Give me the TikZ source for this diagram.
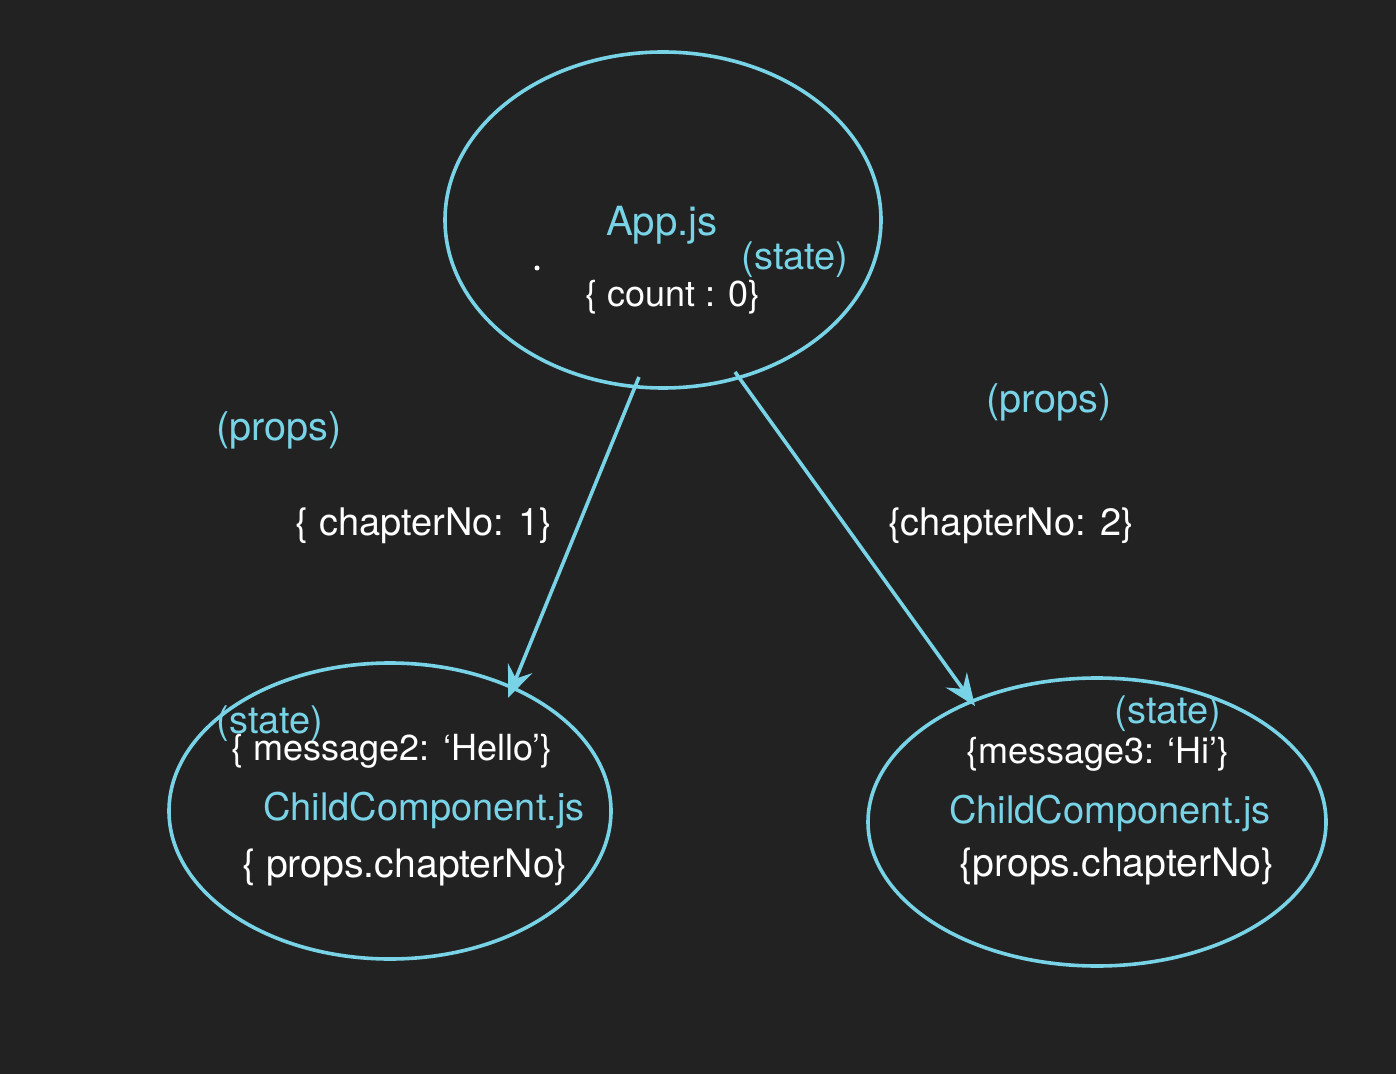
\documentclass[tikz,border=0pt]{standalone}
\usepackage{fontspec}
\setmainfont{TeX Gyre Heros}
\usetikzlibrary{shapes.geometric,arrows.meta}
\definecolor{bg}{HTML}{222222}
\definecolor{cy}{HTML}{78D3E6}
\begin{document}
\begin{tikzpicture}[x=0.5pt,y=-0.5pt,
  comp/.style={draw=cy,line width=1.8pt,ellipse,inner sep=0pt},
  lbl/.style={anchor=base,inner sep=0pt,font=\fontsize{19}{23}\selectfont},
  blue/.style={lbl,text=cy},
  white/.style={lbl,text=white},
  flow/.style={draw=cy,line width=1.8pt,-{Stealth[length=16pt,width=13pt,inset=5.5pt]}}]
\fill[bg] (0,0) rectangle (1396,1074);
\useasboundingbox (0,0) rectangle (1396,1074);
\node[comp,minimum width=218pt,minimum height=168pt] (app) at (663,220) {};
\node[comp,minimum width=221pt,minimum height=148pt] (c1) at (390,811) {};
\node[comp,minimum width=229pt,minimum height=144pt] (c2) at (1097,822) {};
% texts top
\node[blue,font=\fontsize{20.1}{24}\selectfont] (appname) at (662,236) {App.js};
\node[blue] (appstate) at (795,270) {(state)};
\node[white,font=\fontsize{18}{22}\selectfont] (appcount) at (673,307) {\{ count : 0\}};
\node[fill=white,circle,inner sep=0pt,minimum size=2.5pt] (dot) at (537,268) {};
% edge labels
\node[blue,font=\fontsize{19.8}{24}\selectfont] (p1) at (279,441) {(props)};
\node[white] (ch1) at (424,535) {\{ chapterNo: 1\}};
\node[blue,font=\fontsize{19.8}{24}\selectfont] (p2) at (1049,413) {(props)};
\node[white] (ch2) at (1011,535) {\{chapterNo: 2\}};
% left child
\node[blue] (s1) at (270,733) {(state)};
\node[white,font=\fontsize{18}{22}\selectfont] (m1) at (392,760) {\{ message2: ‘Hello’\}};
\node[blue] (n1) at (424,820) {ChildComponent.js};
\node[white,font=\fontsize{19.6}{24}\selectfont] (pc1) at (405,877) {\{ props.chapterNo\}};
% right child
\node[blue] (s2) at (1168,723) {(state)};
\node[white,font=\fontsize{18}{22}\selectfont] (m2) at (1098,763) {\{message3: ‘Hi’\}};
\node[blue] (n2) at (1110,823) {ChildComponent.js};
\node[white,font=\fontsize{19.6}{24}\selectfont] (pc2) at (1117,876) {\{props.chapterNo\}};
% connectors
\coordinate (a1s) at (639,377);
\coordinate (a1e) at (508,698);
\coordinate (a2s) at (735,372);
\coordinate (a2e) at (975,706);
\draw[flow] (a1s) -- (a1e);
\draw[flow] (a2s) -- (a2e);
\end{tikzpicture}
\end{document}
